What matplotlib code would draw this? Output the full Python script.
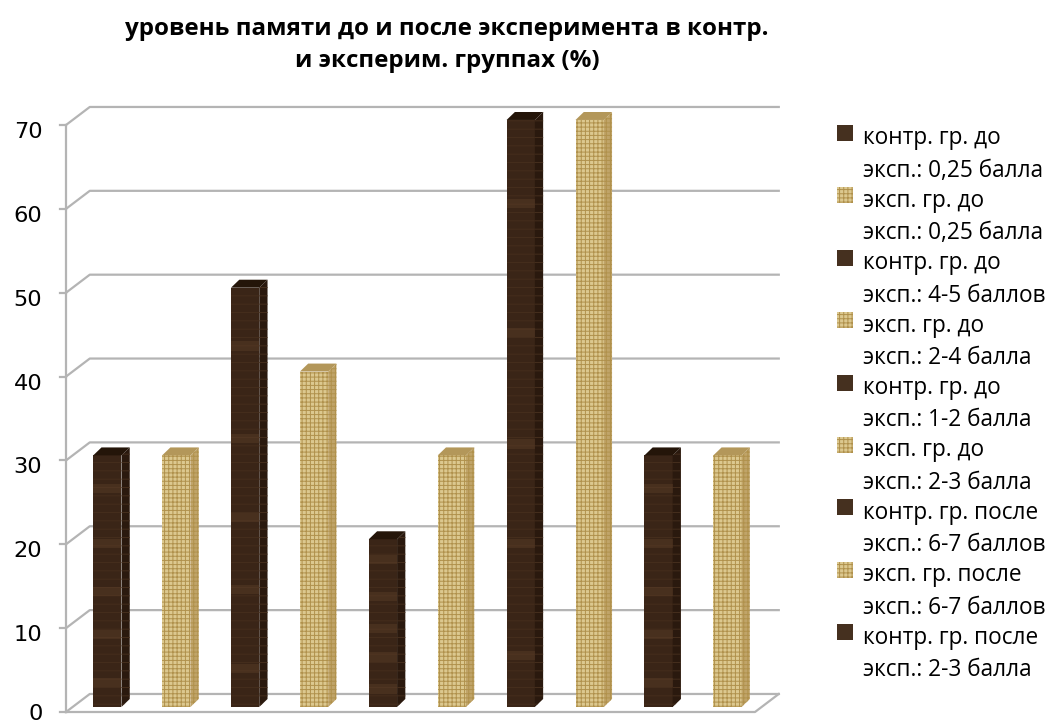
import matplotlib
matplotlib.use('Agg')
import matplotlib.pyplot as plt
from matplotlib.patches import Polygon, Rectangle
from matplotlib.transforms import ScaledTranslation

values = [30, 30, 50, 40, 20, 30, 70, 70, 30, 30]
groups = ['k', 'e', 'k', 'e', 'k', 'e', 'k', 'e', 'k', 'e']
legend_labels = [
    'контр. гр. до\nэксп.: 0,25 балла',
    'эксп. гр. до\nэксп.: 0,25 балла',
    'контр. гр. до\nэксп.: 4-5 баллов',
    'эксп. гр. до\nэксп.: 2-4 балла',
    'контр. гр. до\nэксп.: 1-2 балла',
    'эксп. гр. до\nэксп.: 2-3 балла',
    'контр. гр. после\nэксп.: 6-7 баллов',
    'эксп. гр. после\nэксп.: 6-7 баллов',
    'контр. гр. после\nэксп.: 2-3 балла',
]
yticks = [0, 10, 20, 30, 40, 50, 60, 70]
title = 'уровень памяти до и после эксперимента в контр.\nи эксперим. группах (%)'

W, H = 1053, 724
GRID = '#b4b4b4'
# face, side, top, hatch colour per group
style = {
    'k': dict(face='#3a2517', side='#2a190e', top='#241509', hatch='#452e1d', pattern='--'),
    'e': dict(face='#dcc88f', side='#c0a469', top='#b3975a', hatch='#b0914c', pattern='++++'),
}
# lighter streaks on the dark bars, as a fraction of bar height
wood_bands = [0.08, 0.27, 0.44, 0.63, 0.85]

plt.rcParams['font.family'] = ['Open Sans', 'DejaVu Sans']
plt.rcParams['hatch.linewidth'] = 0.7
fig = plt.figure(figsize=(W / 100, H / 100), dpi=100)
ax = fig.add_axes([66 / W, 1 - 712 / H, 689 / W, 587 / H])
ax.set_xlim(-0.6, 9.4)
ax.set_ylim(0, 70)

# depth of the fake 3D box, in data units
back_x, back_y = 0.345, 2.15
bar_w, bar_dx, bar_dy, bar_base = 0.41, 0.12, 0.95, 0.6

for y in yticks:
    ax.plot([-0.6, -0.6 + back_x, 9.4 + back_x], [y, y + back_y, y + back_y],
            color=GRID, lw=1.6, clip_on=False, zorder=1)
    ax.plot([-0.6 - 0.085, -0.6], [y, y], color=GRID, lw=1.6, clip_on=False, zorder=1)
ax.plot([-0.6, 9.4, 9.4 + back_x], [0, 0, back_y], color=GRID, lw=1.6, clip_on=False, zorder=1)
ax.plot([-0.6, -0.6], [0, 70], color=GRID, lw=1.6, clip_on=False, zorder=1)

for i, (v, g) in enumerate(zip(values, groups)):
    s = style[g]
    left, right = i - bar_w / 2, i + bar_w / 2
    top = bar_base + v
    ax.bar(i, v, bar_w, bottom=bar_base, color=s['face'], edgecolor=s['hatch'],
           hatch=s['pattern'], lw=0, zorder=3, clip_on=False)
    ax.add_patch(Polygon([(right, bar_base), (right + bar_dx, bar_base + bar_dy),
                          (right + bar_dx, top + bar_dy), (right, top)],
                         facecolor=s['side'], edgecolor=s['hatch'], hatch=s['pattern'],
                         lw=0, zorder=3, clip_on=False))
    ax.add_patch(Polygon([(left, top), (left + bar_dx, top + bar_dy),
                          (right + bar_dx, top + bar_dy), (right, top)],
                         facecolor=s['top'], lw=0, zorder=3, clip_on=False))
    if g == 'k':
        for b in wood_bands:
            ax.bar(i, 1.1, bar_w, bottom=bar_base + b * v, color='#6b4a30', alpha=0.3,
                   lw=0, zorder=4)

for sp in ax.spines.values():
    sp.set_visible(False)
ax.set_xticks([])
ax.set_yticks(yticks)
ax.tick_params(axis='y', length=0, pad=17, labelsize=16.2)
for lab, t in zip(ax.get_yticklabels(), yticks):
    lab.set_family('DejaVu Sans')
    # labels sit a little under their ticks; the 0 has no room left for that
    drop = 0.3 if t == 0 else 3.6
    lab.set_transform(lab.get_transform() + ScaledTranslation(0, -drop / 72, fig.dpi_scale_trans))

fig.text(447 / W, 1 - 45 / H, title, ha='center', va='center', fontsize=17.4,
         fontweight='bold', linespacing=1.45)

# legend laid out by hand: the square sits on the first of the two lines
for n, label in enumerate(legend_labels):
    first_line = 138 + n * 62.4
    g = 'k' if n % 2 == 0 else 'e'
    s = style[g]
    fig.add_artist(Rectangle((837 / W, 1 - (first_line + 3) / H), 16 / W, 16 / H,
                             transform=fig.transFigure, facecolor='#45301f' if g == 'k' else s['face'],
                             edgecolor=s['hatch'], hatch=s['pattern'] if g == 'e' else None, lw=0))
    fig.text(863 / W, 1 - (first_line + 16.6) / H, label, ha='left', va='center', fontsize=16.3,
             linespacing=1.47)

fig.savefig('out.png', dpi=100)
